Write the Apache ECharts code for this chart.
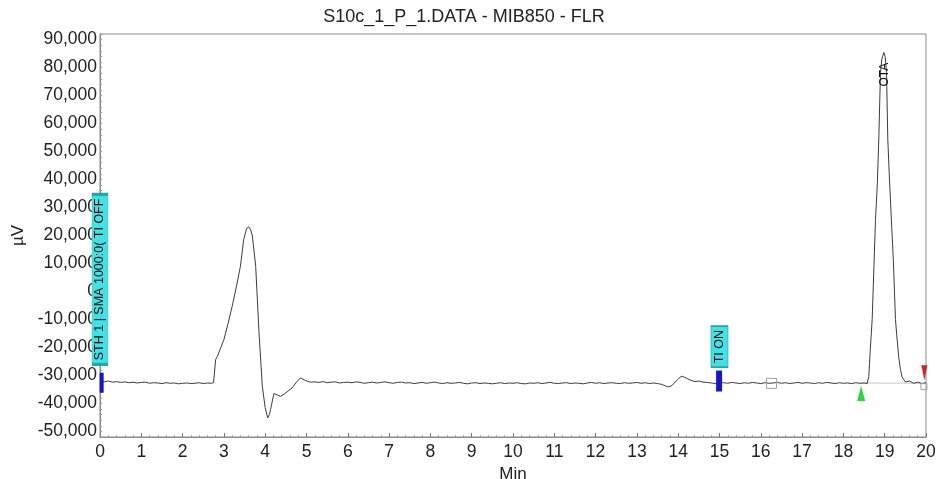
<!DOCTYPE html>
<html><head><meta charset="utf-8">
<script src="https://cdn.jsdelivr.net/npm/echarts@6/dist/echarts.min.js"></script>
<style>html,body{margin:0;padding:0;background:#fff}#c{width:938px;height:479px}</style>
</head><body><div id="c"></div>
<script>
const titleText = 'S10c_1_P_1.DATA - MIB850 - FLR';
const xName = 'Min';
const yName = 'µV';

// [time (min), signal (µV)]
const baselineStart = [
  [0,-32100],[0.1,-32300],[0.2,-32000],[0.3,-32400],[0.4,-32200],[0.5,-32500],[0.6,-32300],
  [0.7,-32600],[0.8,-32400],[0.9,-32700],[1.0,-32500],[1.1,-32400],[1.2,-32800],[1.3,-32600],
  [1.4,-32700],[1.5,-32900],[1.6,-32600],[1.7,-32800],[1.8,-32700],[1.9,-33000],[2.0,-32800],
  [2.1,-32700],[2.2,-32900],[2.3,-32800],[2.4,-32600],[2.5,-32900],[2.6,-32700],[2.7,-32800]
];
const solventFront = [
  [2.75,-32500],[2.80,-24400],[2.84,-23200],[2.9,-21000],[3.0,-17200],[3.1,-11500],[3.2,-5300],
  [3.3,1500],[3.4,9000],[3.48,18600],[3.55,22500],[3.6,23100],[3.65,22000],[3.69,19800],
  [3.77,9000],[3.85,-14700],[3.93,-33900],[4.0,-41500],[4.06,-45200],[4.1,-44000],[4.13,-42200],
  [4.21,-36500],[4.3,-37000],[4.37,-37500],[4.45,-36800],[4.55,-35600],[4.65,-34500],
  [4.75,-32500],[4.85,-30900],[4.95,-31600],[5.02,-32100],[5.1,-32400]
];
const midBaseline = [
  [5.2,-32300],[5.3,-32500],[5.4,-32200],[5.5,-32600],[5.6,-32400],[5.7,-32300],[5.8,-32700],
  [5.9,-32500],[6.0,-32400],[6.1,-32600],[6.2,-32300],[6.3,-32500],[6.4,-32800],[6.5,-32600],
  [6.6,-32400],[6.7,-32700],[6.8,-32500],[6.9,-32300],[7.0,-32600],[7.1,-32800],[7.2,-32500],
  [7.3,-32400],[7.4,-32700],[7.5,-32600],[7.6,-32900],[7.7,-32700],[7.8,-32500],[7.9,-32800],
  [8.0,-32600],[8.1,-32400],[8.2,-32700],[8.3,-32900],[8.4,-32600],[8.5,-32800],[8.6,-32700],
  [8.7,-32500],[8.8,-32800],[8.9,-33000],[9.0,-32700],[9.1,-32600],[9.2,-32900],[9.3,-32700],
  [9.4,-32800],[9.5,-33000],[9.6,-32800],[9.7,-32600],[9.8,-32900],[9.9,-32700],[10.0,-32800],
  [10.1,-32600],[10.2,-32900],[10.3,-33000],[10.4,-32700],[10.5,-32800],[10.6,-32600],
  [10.7,-32900],[10.8,-32700],[10.9,-32500],[11.0,-32800],[11.1,-32900],[11.2,-32700],
  [11.3,-32600],[11.4,-32900],[11.5,-32700],[11.6,-32800],[11.7,-33000],[11.8,-32700],
  [11.9,-32500],[12.0,-32800],[12.1,-32600],[12.2,-32900],[12.3,-32700],[12.4,-32600],
  [12.5,-32800],[12.6,-32900],[12.7,-32600],[12.8,-32800],[12.9,-32700],[13.0,-32500],
  [13.1,-32800],[13.2,-32600],[13.3,-32900],[13.4,-32700],[13.5,-32900]
];
const bumpRegion = [
  [13.6,-33200],[13.7,-33800],[13.77,-34100],[13.85,-33600],[13.95,-32000],[14.05,-30600],
  [14.1,-30300],[14.2,-31000],[14.3,-31700],[14.4,-32200],[14.5,-32000],[14.6,-32400],
  [14.7,-32500],[14.8,-32700],[14.9,-32900],[15.0,-32700]
];
const lateBaseline = [
  [15.1,-32600],[15.2,-32800],[15.3,-32500],[15.4,-32700],[15.5,-32900],[15.6,-32600],
  [15.7,-32800],[15.8,-32500],[15.9,-32700],[16.0,-32900],[16.1,-32600],[16.2,-32800],
  [16.3,-32700],[16.4,-32500],[16.5,-32800],[16.6,-32600],[16.7,-32900],[16.8,-32700],
  [16.9,-32500],[17.0,-32800],[17.1,-32600],[17.2,-32700],[17.3,-32900],[17.4,-32600],
  [17.5,-32800],[17.6,-32500],[17.7,-32700],[17.8,-32900],[17.9,-32600],[18.0,-32800],
  [18.1,-32700],[18.2,-32900],[18.3,-32600],[18.4,-32800],[18.5,-32700]
];
const otaPeak = [
  [18.576,-32900],[18.615,-30300],[18.65,-21000],[18.697,-10000],[18.74,9000],[18.777,25700],
  [18.82,38000],[18.857,54400],[18.898,78300],[18.93,83000],[18.978,85400],[19.01,84000],
  [19.044,78300],[19.075,54400],[19.11,42000],[19.16,26000],[19.21,11000],[19.261,-10000],
  [19.30,-17000],[19.34,-23500],[19.382,-27900],[19.42,-30500],[19.462,-31500]
];
const tail = [
  [19.5,-32300],[19.6,-32000],[19.7,-32800],[19.8,-32400],[19.9,-32900],[20.0,-32600]
];
// integration baseline under OTA
const otaBaseline = [[18.41,-32700],[20.0,-32800]];

// event annotations: [time, centre value]
const eventTexts = ['STH 1 | SMA 1000:0( TI OFF', 'TI ON'];
const eventBoxPos = [[0, 4300], [15.0, -19700]];
const eventMarkPos = [[0.04, -32600], [14.99, -32000]];
const peakName = 'OTA';
const peakLabelPos = [19.0, 77500];
const squareMarks = [[16.26, -32830], [19.95, -34000]];
const startMark = [18.43, -36500];
const endMark = [19.96, -29000];

const signal = [].concat(baselineStart, solventFront, midBaseline, bumpRegion, lateBaseline, otaPeak, tail);

const FONT = 'Liberation Sans';
const chart = echarts.init(document.getElementById('c'), null, {renderer: 'canvas'});
const cyan = '#3ee3e6';
chart.setOption({
  animation: false,
  backgroundColor: '#fff',
  textStyle: {fontFamily: FONT},
  title: {
    text: titleText, left: 459, top: 3, textAlign: 'center',
    textStyle: {fontFamily: FONT, fontSize: 18, fontWeight: 'normal', color: '#222'}
  },
  grid: {left: 100, right: 12, top: 34, bottom: 42, show: true, borderColor: '#8a8a8a', borderWidth: 1,
         outerBoundsMode: 'none', containLabel: false},
  xAxis: {
    type: 'value', min: 0, max: 20, interval: 1,
    name: xName, nameLocation: 'middle', nameGap: 24,
    nameTextStyle: {fontFamily: FONT, fontSize: 17, color: '#222'},
    axisLine: {onZero: false, lineStyle: {color: '#8a8a8a'}},
    axisTick: {inside: true, length: 4, lineStyle: {color: '#777'}},
    minorTick: {show: true, splitNumber: 5, length: 2, lineStyle: {color: '#aaa'}},
    splitLine: {show: false},
    axisLabel: {fontFamily: FONT, fontSize: 17.5, color: '#222', margin: 6}
  },
  yAxis: {
    type: 'value', min: -52000, max: 92000, interval: 2000,
    name: yName, nameLocation: 'middle', nameRotate: 90, nameGap: 70,
    nameTextStyle: {fontFamily: FONT, fontSize: 17, color: '#222'},
    axisLine: {show: true, onZero: false, lineStyle: {color: '#8a8a8a'}},
    axisTick: {inside: true, length: 2, lineStyle: {color: '#999'}},
    splitLine: {show: false},
    axisLabel: {
      fontFamily: FONT, fontSize: 17.5, color: '#222', margin: 3,
      formatter: v => (v % 10000 === 0 ? v.toLocaleString('en-US') : '')
    }
  },
  series: [
    {
      type: 'line', data: otaBaseline, showSymbol: false, silent: true, z: 2,
      lineStyle: {color: '#c8c8c8', width: 1}
    },
    {
      type: 'line', data: signal, showSymbol: false, z: 3, clip: false,
      lineStyle: {color: '#3c3c3c', width: 1},
      markPoint: {
        silent: true,
        data: [
          {coord: eventBoxPos[0], symbol: 'rect', symbolSize: [16, 170],
           itemStyle: {color: cyan, borderColor: '#22a6a8', borderWidth: 1},
           label: {show: true, position: 'inside', rotate: 90, formatter: eventTexts[0], fontSize: 12.5, color: '#000', fontFamily: FONT}},
          {coord: eventBoxPos[1], symbol: 'rect', symbolSize: [17, 41],
           itemStyle: {color: cyan, borderColor: '#22a6a8', borderWidth: 1},
           label: {show: true, position: 'inside', rotate: 90, formatter: eventTexts[1], fontSize: 12.5, color: '#000', fontFamily: FONT}},
          {coord: eventMarkPos[0], symbol: 'rect', symbolSize: [4, 20], itemStyle: {color: '#1414d2'}, label: {show: false}},
          {coord: eventMarkPos[1], symbol: 'rect', symbolSize: [6, 21], itemStyle: {color: '#1414d2'}, label: {show: false}},
          {coord: squareMarks[0], symbol: 'rect', symbolSize: 10, itemStyle: {color: 'rgba(0,0,0,0)', borderColor: '#a0a0a0', borderWidth: 1}, label: {show: false}},
          {coord: squareMarks[1], symbol: 'rect', symbolSize: 6, itemStyle: {color: 'rgba(0,0,0,0)', borderColor: '#a0a0a0', borderWidth: 1}, label: {show: false}},
          {coord: startMark, symbol: 'triangle', symbolSize: [8, 15], itemStyle: {color: '#22dd33'}, label: {show: false}},
          {coord: endMark, symbol: 'triangle', symbolRotate: 180, symbolSize: [6, 15], itemStyle: {color: '#d42020'}, label: {show: false}},
          {coord: peakLabelPos, symbol: 'rect', symbolSize: 1, itemStyle: {color: 'rgba(0,0,0,0)'},
           label: {show: true, position: 'inside', rotate: 90, formatter: peakName, fontSize: 12, color: '#111', fontFamily: FONT}}
        ]
      }
    }
  ]
});
</script>
</body></html>
